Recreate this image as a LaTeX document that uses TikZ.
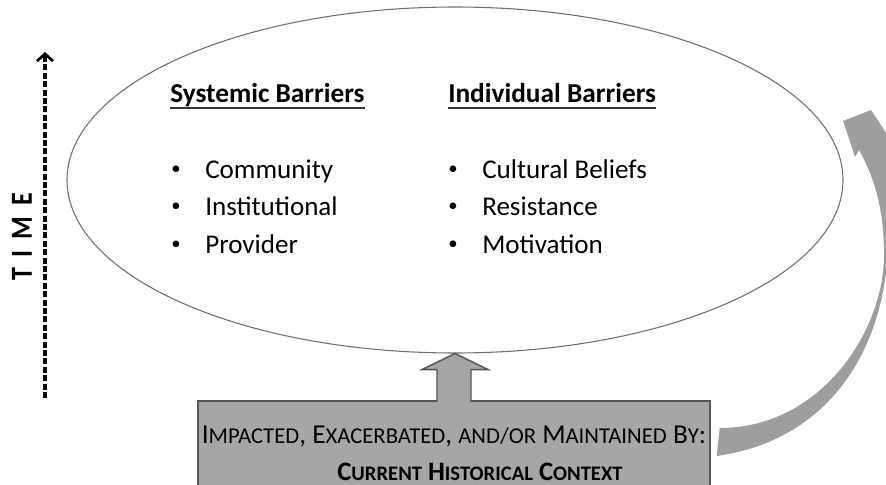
\documentclass[tikz,border=0pt]{standalone}
\usepackage{fontspec}
\setmainfont{Carlito}
\usetikzlibrary{positioning, arrows.meta, shapes.geometric, calc}
\definecolor{boxgray}{RGB}{166,166,166}
\definecolor{edgegray}{RGB}{85,85,85}
\definecolor{ellgray}{RGB}{110,110,110}
\definecolor{curvegray}{RGB}{158,158,158}
% small caps faked from two sizes
\newcommand{\lc}[1]{{\fontsize{17}{20}\selectfont #1}}
\newcommand{\lcb}[1]{{\fontsize{15.5}{18}\selectfont #1}}
\newcommand{\dotitem}{\raisebox{3pt}{\fontsize{14}{16}\selectfont\textbullet}}
\tikzset{
    txt/.style={inner sep=0pt, anchor=base west, font=\fontsize{20.3}{24}\selectfont},
    heading/.style={txt, font=\fontsize{20.5}{24}\selectfont\bfseries},
    bullet/.style={inner sep=0pt, anchor=base},
    uline/.style={line width=1.5pt, draw=black!80},
    ctxbox/.style={rectangle, draw=edgegray, fill=boxgray, line width=1.1pt,
        minimum width=384pt, minimum height=70.5pt},
    ctxtext/.style={inner sep=0pt, anchor=base, font=\fontsize{20.5}{24}\selectfont},
    blockarr/.style={draw=edgegray, fill=boxgray, line width=1.1pt, line join=miter},
    timeline/.style={line width=2.5pt, dash pattern=on 4.5pt off 1.8pt,
        -{Straight Barb[length=5.5pt, width=12pt, line width=2pt]}}
}
\begin{document}
\begin{tikzpicture}[x=0.75pt, y=-0.75pt]
\useasboundingbox (0,0) rectangle (886,485);
\clip (0,0) rectangle (886,485);

% time axis
\coordinate (tbot) at (45,398);
\coordinate (ttop) at (45,52);
\draw[timeline] (tbot) -- (ttop);
\node[rotate=90, font=\fontsize{23}{26}\selectfont\bfseries] (time) at (22,237)
    {\scalebox{0.85}[1]{T\hspace{9.5pt}I\hspace{9.5pt}M\hspace{9.5pt}E}};

% barriers
\node[ellipse, draw=ellgray, line width=0.8pt, inner sep=0pt,
    minimum width=582pt, minimum height=259.5pt] (barr) at (455,180) {};

\node[heading] (sys) at (170,103) {Systemic Barriers};
\node[heading] (ind) at (448,103) {Individual Barriers};
\draw[uline] ([yshift=-4pt]sys.base west) -- ([yshift=-4pt]sys.base east);
\draw[uline] ([yshift=-4pt]ind.base west) -- ([yshift=-4pt]ind.base east);

\foreach \name [count=\i] in {Community, Institutional, Provider} {
    \node[bullet] (sysb\i) at (176,140.5+37.5*\i) {\dotitem};
    \node[txt] (sys\i) at (205,140.5+37.5*\i) {\name};
}
\foreach \name [count=\i] in {Cultural Beliefs, Resistance, Motivation} {
    \node[bullet] (indb\i) at (453,140.5+37.5*\i) {\dotitem};
    \node[txt] (ind\i) at (482,140.5+37.5*\i) {\name};
}

% context box
\node[ctxbox] (ctx) at (454,448) {};
\node[ctxtext] (ctxa) at (454,443)
    {I\lc{MPACTED}, E\lc{XACERBATED}, \lc{AND/OR} M\lc{AINTAINED} B\lc{Y}:};
\node[ctxtext, font=\fontsize{20}{24}\selectfont\bfseries] (ctxb) at (480,480)
    {C\lcb{URRENT} H\lcb{ISTORICAL} C\lcb{ONTEXT}};

% block arrow up into the ellipse
\draw[blockarr] ($(ctx.north)+(-17,1.5)$) |- ($(barr.south)+(-33,16)$)
    -- (barr.south) -- ($(barr.south)+(33,16)$) -| ($(ctx.north)+(17,1.5)$);

% curved arrow feeding back, its outer side running off the right edge
\fill[curvegray] ([shift={(9,-20)}]ctx.east)
    .. controls (821,428) and (884,331) .. (884,255)
    .. controls (884,200) and (870,170) .. (859,150)
    -- (855,157) -- (843,121) -- (871,110) -- (896,148)
    .. controls (905,200) and (900,235) .. (887,262)
    .. controls (880,350) and (830,440) .. ([shift={(6,8)}]ctx.east) -- cycle;
\end{tikzpicture}
\end{document}
